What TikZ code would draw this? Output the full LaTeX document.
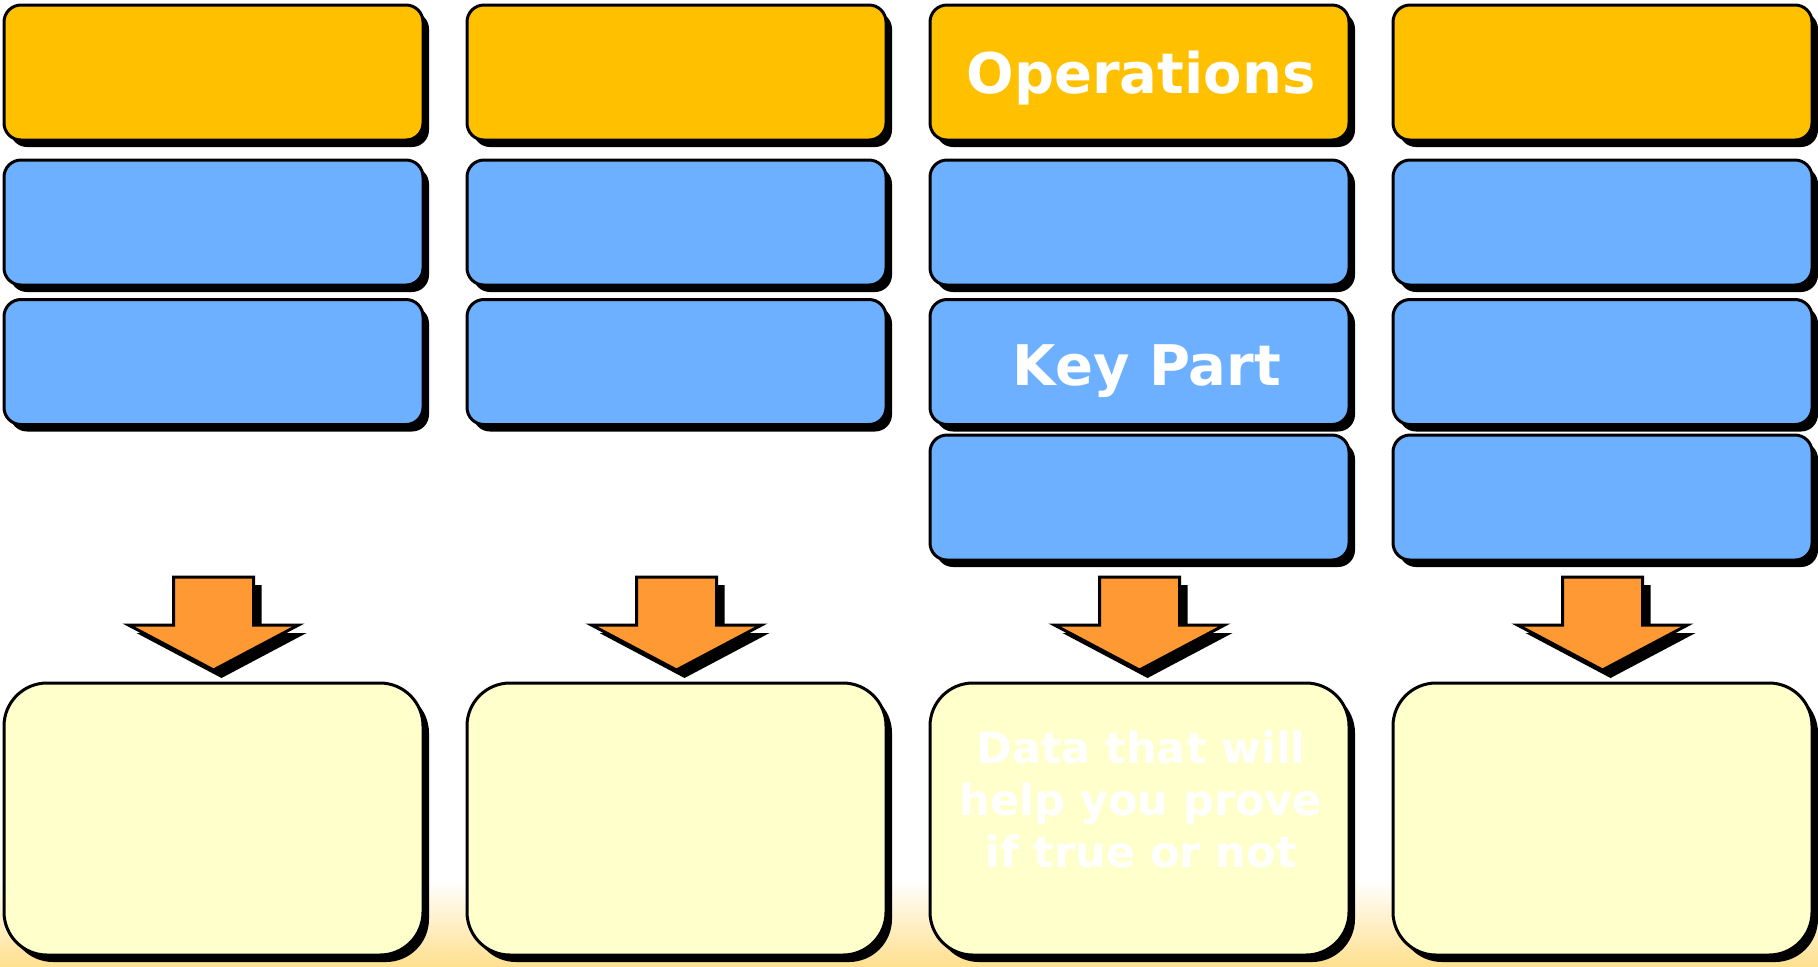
\documentclass[tikz,border=0pt]{standalone}
\usepackage{fontspec}
\setmainfont{DejaVu Sans}
\usepackage{tikz}
\usetikzlibrary{shadows,positioning,calc}

\definecolor{headorange}{HTML}{FFC000}
\definecolor{partblue}{HTML}{6CB0FF}
\definecolor{datayellow}{HTML}{FFFFCC}
\definecolor{arroworange}{HTML}{FF9933}
\definecolor{bandyellow}{HTML}{FFE08F}

\begin{document}
\begin{tikzpicture}[
    x=0.5pt, y=-0.5pt,
    boxbase/.style={
        draw=black,
        line width=1.5pt,
        inner sep=0pt,
        minimum width=209.5pt,
        drop shadow={shadow xshift=3pt, shadow yshift=-3.5pt, fill=black, opacity=1}
    },
    headbox/.style={boxbase, fill=headorange, rounded corners=8.5pt, minimum height=67.5pt},
    partbox/.style={boxbase, fill=partblue, rounded corners=8.5pt, minimum height=62.5pt},
    databox/.style={boxbase, fill=datayellow, rounded corners=21.5pt, minimum height=136pt},
    blockarrow/.style={
        draw=black,
        line width=1.5pt,
        fill=arroworange,
        line join=miter,
        drop shadow={shadow xshift=4pt, shadow yshift=-4pt, fill=black, opacity=1}
    },
    boxtext/.style={text=white, inner sep=0pt, font=\bfseries\fontsize{28}{34}\selectfont},
    datatext/.style={text=white, inner sep=0pt, align=center, font=\bfseries\fontsize{21.5}{26}\selectfont}
]
    \useasboundingbox (0,0) rectangle (1818,966);

    % Soft band along the bottom edge
    \shade[top color=white, bottom color=bandyellow] (0,880) rectangle (1818,966);

    % Four columns: header, parts, arrow, data box
    \foreach \col/\cx in {1/213.5, 2/676.5, 3/1139.5, 4/1602.5} {
        \node[headbox] (head\col) at (\cx,72.5) {};
        \node[partbox] (partA\col) at (\cx,222.5) {};
        \node[partbox] (partB\col) at (\cx,362) {};
        \node[databox] (data\col) at (\cx,819) {};
        \draw[blockarrow] ({\cx-40},577) -- ({\cx+40},577) -- ({\cx+40},625) -- ({\cx+85},625)
            -- (\cx,670) -- ({\cx-85},625) -- ({\cx-40},625) -- cycle;
    }

    % Extra part boxes in the last two columns
    \foreach \col/\cx in {3/1139.5, 4/1602.5}
        \node[partbox] (partC\col) at (\cx,497.5) {};

    % Texts
    \node[boxtext] (opslabel) at (1141,78) {Operations};
    \node[boxtext] (keylabel) at (1147,371) {Key Part};
    \node[datatext] (datalabel) at (1141,799) {Data that will\\help you prove\\if true or not};
\end{tikzpicture}
\end{document}
